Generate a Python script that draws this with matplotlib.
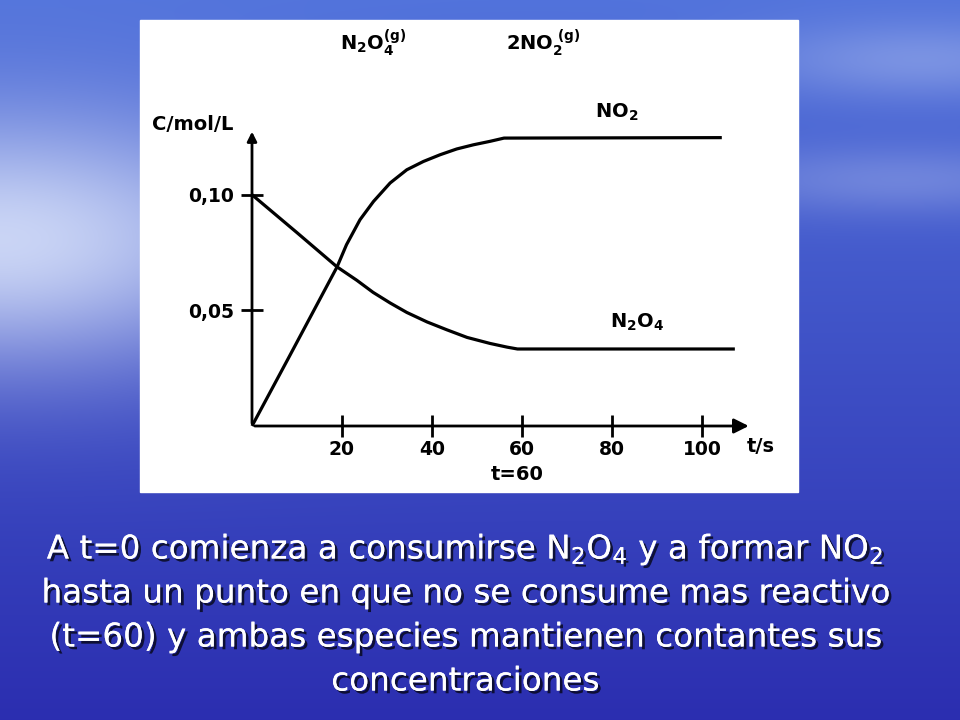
import matplotlib
matplotlib.use("Agg")
import matplotlib.pyplot as plt
import matplotlib.patheffects as pe
import numpy as np

plt.rcParams['mathtext.fontset'] = 'custom'
plt.rcParams['mathtext.rm'] = 'DejaVu Sans'
plt.rcParams['mathtext.bf'] = 'DejaVu Sans:bold'
plt.rcParams['mathtext.sf'] = 'DejaVu Sans'

# concentraciones
t_no2 = [0, 8, 18.9, 21.0, 24.0, 27.0, 30.7, 34.4, 38.1, 41.8, 45.5, 49.2, 52.9, 56.0, 104.4]
c_no2 = [0, 0.0290, 0.0688, 0.0784, 0.0892, 0.0971, 0.1051, 0.1108, 0.1144, 0.1173, 0.1198,
         0.1216, 0.1231, 0.1245, 0.1247]
t_n2o4 = [0, 10, 18.9, 23.3, 26.9, 30.7, 34.4, 38.9, 43.3, 47.8, 52.9, 56.7, 59, 107.3]
c_n2o4 = [0.100, 0.0836, 0.0688, 0.0630, 0.0578, 0.0532, 0.0491, 0.0450, 0.0416,
          0.0383, 0.0357, 0.0341, 0.0333, 0.0333]

x_ticks = [20, 40, 60, 80, 100]
y_ticks = [0.05, 0.10]
y_tick_labels = ['0,05', '0,10']

texto = [r'A t=0 comienza a consumirse N$_\mathsf{2}$O$_\mathsf{4}$ y a formar NO$_\mathsf{2}$',
         'hasta un punto en que no se consume mas reactivo',
         '(t=60) y ambas especies mantienen contantes sus',
         'concentraciones']

W, H = 960, 720
fig = plt.figure(figsize=(W / 100, H / 100), dpi=100)

# fondo azul de la diapositiva
bg = fig.add_axes([0, 0, 1, 1])
yy, xx = np.mgrid[0:H, 0:W]
f = yy / H
top = np.array([0.32, 0.45, 0.86])
bot = np.array([0.17, 0.18, 0.69])
img = top[None, None, :] * (1 - f[..., None]) + bot[None, None, :] * f[..., None]
glow = np.exp(-((xx / 300.0) ** 2 + ((yy - 240) / 130.0) ** 2))
glow2 = 0.35 * np.exp(-(((xx - 920) / 180.0) ** 2 + ((yy - 60) / 40.0) ** 2))
glow3 = 0.30 * np.exp(-(((xx - 900) / 200.0) ** 2 + ((yy - 180) / 35.0) ** 2))
g = np.clip(glow + glow2 + glow3, 0, 1)[..., None]
img = img * (1 - 0.8 * g) + np.array([0.92, 0.95, 1.0]) * 0.8 * g
bg.imshow(img, extent=[0, W, H, 0], aspect='auto')
bg.set_xlim(0, W)
bg.set_ylim(H, 0)
bg.axis('off')

# panel blanco
bg.add_patch(plt.Rectangle((140, 20), 658, 472, color='white', zorder=2))

# ejes del grafico
ax = fig.add_axes([252 / W, 1 - 426 / H, 495 / W, 296 / H])
ax.set_xlim(0, 110)
ax.set_ylim(0, 0.128)
ax.patch.set_alpha(0)
for s in ax.spines.values():
    s.set_visible(False)

ax.plot(t_no2, c_no2, color='black', lw=2.3, solid_capstyle='butt', solid_joinstyle='round', clip_on=False)
ax.plot(t_n2o4, c_n2o4, color='black', lw=2.3, solid_capstyle='butt', solid_joinstyle='round', clip_on=False)

ax.annotate('', xy=(111, 0), xytext=(0, 0), xycoords='data',
            arrowprops=dict(arrowstyle='-|>', color='black', lw=2, mutation_scale=22),
            annotation_clip=False)
ax.annotate('', xy=(0, 0.1285), xytext=(0, 0), xycoords='data',
            arrowprops=dict(arrowstyle='-|>', color='black', lw=2, mutation_scale=14),
            annotation_clip=False)

ax.set_xticks(x_ticks)
ax.set_xticklabels([str(v) for v in x_ticks], fontweight='bold', family='DejaVu Sans', fontsize=13.5)
ax.set_yticks(y_ticks)
ax.set_yticklabels(y_tick_labels, fontweight='bold', family='DejaVu Sans', fontsize=13.5)
ax.tick_params(axis='both', direction='inout', length=16, width=2, color='black')
ax.tick_params(axis='x', pad=2)
ax.tick_params(axis='y', pad=5)

lab = dict(fontweight='bold', family='DejaVu Sans', fontsize=14, color='black')
fig.text(761 / W, 1 - 446 / H, 't/s', ha='center', va='center', **lab)
fig.text(517 / W, 1 - 474 / H, 't=60', ha='center', va='center', **lab)
fig.text(193 / W, 1 - 125 / H, 'C/mol/L', ha='center', va='center', **lab)
fig.text(340 / W, 1 - 43 / H, r'$\mathbf{N_2O_4^{(g)}}$', ha='left', va='center', fontsize=14)
fig.text(506 / W, 1 - 43 / H, r'$\mathbf{2NO_2^{\ (g)}}$', ha='left', va='center', fontsize=14)
fig.text(595 / W, 1 - 112 / H, r'$\mathbf{NO_2}$', ha='left', va='center', fontsize=14)
fig.text(610 / W, 1 - 322 / H, r'$\mathbf{N_2O_4}$', ha='left', va='center', fontsize=14)

# texto de la diapositiva
sombra = [pe.withSimplePatchShadow(offset=(2, -2), shadow_rgbFace='black', alpha=0.7), pe.Normal()]
for i, linea in enumerate(texto):
    fig.text(465 / W, 1 - (549 + i * 44) / H, linea, ha='center', va='center',
             family='DejaVu Sans', fontsize=23.5, color='white', path_effects=sombra)

fig.savefig('out.png', dpi=100)
